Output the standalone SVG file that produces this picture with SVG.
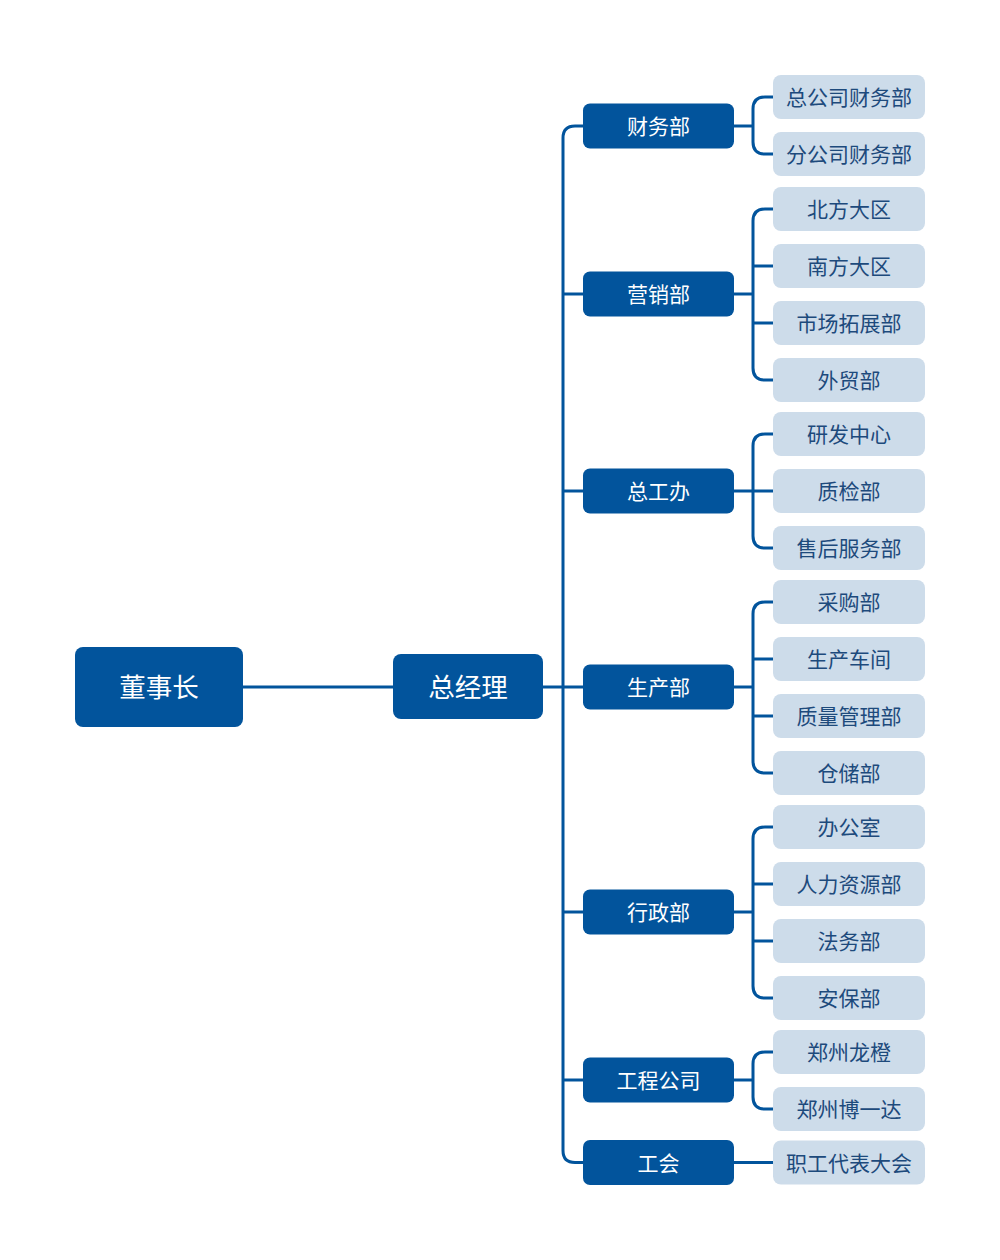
<svg xmlns="http://www.w3.org/2000/svg" width="1000" height="1260" viewBox="0 0 1000 1260">
<style>
.top{fill:#02549c}
.dept{fill:#02549c}
.leaf{fill:#cddcea}
.tt{fill:#ffffff;font-family:"Noto Sans CJK SC","Noto Sans",sans-serif;font-size:26.5px;text-anchor:middle;dominant-baseline:central}
.dt{fill:#ffffff;font-family:"Noto Sans CJK SC","Noto Sans",sans-serif;font-size:21px;text-anchor:middle;dominant-baseline:central}
.lt{fill:#1d4a7c;font-family:"Noto Sans CJK SC","Noto Sans",sans-serif;font-size:21px;text-anchor:middle;dominant-baseline:central}
.ln{fill:none;stroke:#02549c;stroke-width:3}
</style>
<rect width="1000" height="1260" fill="#ffffff"/>
<g id="connectors">
<path class="ln" d="M243,687 H393"/>
<path class="ln" d="M543,687 H583"/>
<path class="ln" d="M583,126 H575 Q563,126 563,138 V1150.5 Q563,1162.5 575,1162.5 H583"/>
<path class="ln" d="M563,294 H583"/>
<path class="ln" d="M563,491 H583"/>
<path class="ln" d="M563,912 H583"/>
<path class="ln" d="M563,1080 H583"/>
<path class="ln" d="M734,126 H753"/>
<path class="ln" d="M773,97 H765 Q753,97 753,109 V142 Q753,154 765,154 H773"/>
<path class="ln" d="M734,294 H753"/>
<path class="ln" d="M773,209 H765 Q753,209 753,221 V368 Q753,380 765,380 H773"/>
<path class="ln" d="M753,266 H773"/>
<path class="ln" d="M753,323 H773"/>
<path class="ln" d="M734,491 H773"/>
<path class="ln" d="M773,434 H765 Q753,434 753,446 V536 Q753,548 765,548 H773"/>
<path class="ln" d="M734,687 H753"/>
<path class="ln" d="M773,602 H765 Q753,602 753,614 V761 Q753,773 765,773 H773"/>
<path class="ln" d="M753,659 H773"/>
<path class="ln" d="M753,716 H773"/>
<path class="ln" d="M734,912 H753"/>
<path class="ln" d="M773,827 H765 Q753,827 753,839 V986 Q753,998 765,998 H773"/>
<path class="ln" d="M753,884 H773"/>
<path class="ln" d="M753,941 H773"/>
<path class="ln" d="M734,1080 H753"/>
<path class="ln" d="M773,1052 H765 Q753,1052 753,1064 V1097 Q753,1109 765,1109 H773"/>
<path class="ln" d="M734,1162.5 H773"/>
</g>
<g id="n-chairman"><rect class="top" x="75" y="647" width="168" height="80" rx="8"/><text class="tt" x="159" y="685.5">董事长</text></g>
<g id="n-gm"><rect class="top" x="393" y="654" width="150" height="65" rx="8"/><text class="tt" x="468" y="685.5">总经理</text></g>
<g id="d-finance"><rect class="dept" x="583" y="103.5" width="151" height="45" rx="7"/><text class="dt" x="658.5" y="125">财务部</text></g>
<g id="d-marketing"><rect class="dept" x="583" y="271.5" width="151" height="45" rx="7"/><text class="dt" x="658.5" y="293">营销部</text></g>
<g id="d-engoffice"><rect class="dept" x="583" y="468.5" width="151" height="45" rx="7"/><text class="dt" x="658.5" y="490">总工办</text></g>
<g id="d-production"><rect class="dept" x="583" y="664.5" width="151" height="45" rx="7"/><text class="dt" x="658.5" y="686">生产部</text></g>
<g id="d-admin"><rect class="dept" x="583" y="889.5" width="151" height="45" rx="7"/><text class="dt" x="658.5" y="911">行政部</text></g>
<g id="d-engco"><rect class="dept" x="583" y="1057.5" width="151" height="45" rx="7"/><text class="dt" x="658.5" y="1079">工程公司</text></g>
<g id="d-union"><rect class="dept" x="583" y="1140" width="151" height="45" rx="7"/><text class="dt" x="658.5" y="1161.5">工会</text></g>
<g id="l-1"><rect class="leaf" x="773" y="75" width="152" height="44" rx="8"/><text class="lt" x="849" y="96">总公司财务部</text></g>
<g id="l-2"><rect class="leaf" x="773" y="132" width="152" height="44" rx="8"/><text class="lt" x="849" y="153">分公司财务部</text></g>
<g id="l-3"><rect class="leaf" x="773" y="187" width="152" height="44" rx="8"/><text class="lt" x="849" y="208">北方大区</text></g>
<g id="l-4"><rect class="leaf" x="773" y="244" width="152" height="44" rx="8"/><text class="lt" x="849" y="265">南方大区</text></g>
<g id="l-5"><rect class="leaf" x="773" y="301" width="152" height="44" rx="8"/><text class="lt" x="849" y="322">市场拓展部</text></g>
<g id="l-6"><rect class="leaf" x="773" y="358" width="152" height="44" rx="8"/><text class="lt" x="849" y="379">外贸部</text></g>
<g id="l-7"><rect class="leaf" x="773" y="412" width="152" height="44" rx="8"/><text class="lt" x="849" y="433">研发中心</text></g>
<g id="l-8"><rect class="leaf" x="773" y="469" width="152" height="44" rx="8"/><text class="lt" x="849" y="490">质检部</text></g>
<g id="l-9"><rect class="leaf" x="773" y="526" width="152" height="44" rx="8"/><text class="lt" x="849" y="547">售后服务部</text></g>
<g id="l-10"><rect class="leaf" x="773" y="580" width="152" height="44" rx="8"/><text class="lt" x="849" y="601">采购部</text></g>
<g id="l-11"><rect class="leaf" x="773" y="637" width="152" height="44" rx="8"/><text class="lt" x="849" y="658">生产车间</text></g>
<g id="l-12"><rect class="leaf" x="773" y="694" width="152" height="44" rx="8"/><text class="lt" x="849" y="715">质量管理部</text></g>
<g id="l-13"><rect class="leaf" x="773" y="751" width="152" height="44" rx="8"/><text class="lt" x="849" y="772">仓储部</text></g>
<g id="l-14"><rect class="leaf" x="773" y="805" width="152" height="44" rx="8"/><text class="lt" x="849" y="826">办公室</text></g>
<g id="l-15"><rect class="leaf" x="773" y="862" width="152" height="44" rx="8"/><text class="lt" x="849" y="883">人力资源部</text></g>
<g id="l-16"><rect class="leaf" x="773" y="919" width="152" height="44" rx="8"/><text class="lt" x="849" y="940">法务部</text></g>
<g id="l-17"><rect class="leaf" x="773" y="976" width="152" height="44" rx="8"/><text class="lt" x="849" y="997">安保部</text></g>
<g id="l-18"><rect class="leaf" x="773" y="1030" width="152" height="44" rx="8"/><text class="lt" x="849" y="1051">郑州龙橙</text></g>
<g id="l-19"><rect class="leaf" x="773" y="1087" width="152" height="44" rx="8"/><text class="lt" x="849" y="1108">郑州博一达</text></g>
<g id="l-20"><rect class="leaf" x="773" y="1140.5" width="152" height="44" rx="8"/><text class="lt" x="849" y="1161.5">职工代表大会</text></g>
</svg>
